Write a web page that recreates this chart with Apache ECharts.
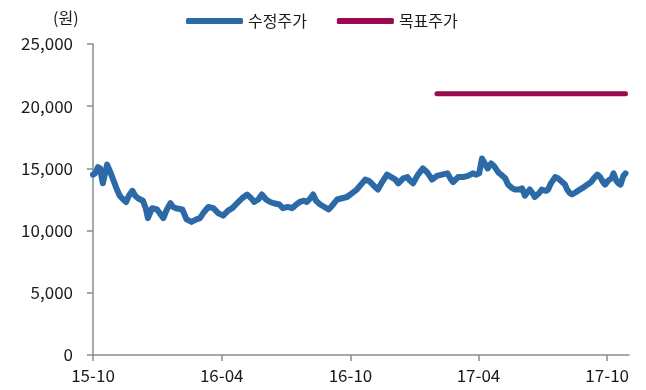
<!DOCTYPE html>
<html>
<head>
<meta charset="utf-8">
<script src="https://cdn.jsdelivr.net/npm/echarts@6/dist/echarts.min.js"></script>
<style>
  html, body { margin: 0; padding: 0; background: #fff; }
  #chart { width: 646px; height: 390px; }
</style>
</head>
<body>
<div id="chart"></div>
<script>
// Adjusted close price (수정주가), sampled dates and values in KRW
const priceDates = [
  '2015-10-01','2015-10-04','2015-10-08','2015-10-11','2015-10-15','2015-10-21','2015-10-25','2015-10-29',
  '2015-11-04','2015-11-08','2015-11-13','2015-11-17','2015-11-21','2015-11-26','2015-11-30',
  '2015-12-04','2015-12-11','2015-12-15','2015-12-18','2015-12-24','2015-12-31',
  '2016-01-04','2016-01-09','2016-01-14','2016-01-19','2016-01-23','2016-01-27',
  '2016-02-05','2016-02-11','2016-02-18','2016-02-25','2016-03-01','2016-03-07','2016-03-13','2016-03-20','2016-03-27',
  '2016-04-03','2016-04-10','2016-04-16','2016-04-23','2016-04-30',
  '2016-05-07','2016-05-13','2016-05-17','2016-05-23','2016-05-28',
  '2016-06-03','2016-06-09','2016-06-14','2016-06-22','2016-06-27',
  '2016-07-04','2016-07-10','2016-07-16','2016-07-21','2016-07-27','2016-07-31',
  '2016-08-05','2016-08-09','2016-08-13','2016-08-19','2016-08-25','2016-08-31',
  '2016-09-05','2016-09-12','2016-09-19','2016-09-26',
  '2016-10-03','2016-10-10','2016-10-16','2016-10-22','2016-10-27','2016-10-31',
  '2016-11-05','2016-11-09','2016-11-15','2016-11-22','2016-11-28',
  '2016-12-04','2016-12-08','2016-12-15','2016-12-21','2016-12-25','2016-12-29',
  '2017-01-05','2017-01-12','2017-01-18','2017-01-25',
  '2017-02-01','2017-02-08','2017-02-16','2017-02-20','2017-02-24',
  '2017-03-03','2017-03-10','2017-03-17','2017-03-24','2017-03-29',
  '2017-04-02','2017-04-06','2017-04-10','2017-04-14','2017-04-19','2017-04-23','2017-04-29',
  '2017-05-05','2017-05-09','2017-05-13','2017-05-19','2017-05-23','2017-05-29',
  '2017-06-02','2017-06-06','2017-06-10','2017-06-13','2017-06-17','2017-06-20','2017-06-26','2017-06-30',
  '2017-07-06','2017-07-09','2017-07-13','2017-07-19','2017-07-23','2017-07-29',
  '2017-08-02','2017-08-05','2017-08-09','2017-08-12','2017-08-18','2017-08-23','2017-08-29',
  '2017-09-03','2017-09-08','2017-09-12','2017-09-17','2017-09-21','2017-09-25','2017-09-28',
  '2017-10-02','2017-10-07','2017-10-10','2017-10-14','2017-10-17','2017-10-20','2017-10-24','2017-10-27'
];
const priceValues = [
  14500,14600,15100,15000,13800,15300,14800,14200,
  13300,12800,12500,12300,12800,13200,12800,
  12600,12400,11800,11000,11800,11700,
  11400,11000,11700,12200,11900,11800,
  11700,10900,10700,10900,11000,11500,11900,11800,11400,
  11200,11600,11800,12200,12600,
  12900,12600,12300,12500,12900,
  12500,12300,12200,12100,11800,
  11900,11800,12100,12300,12400,12300,
  12600,12900,12400,12100,11900,11700,
  12000,12500,12600,12700,
  13000,13300,13700,14100,14000,13800,
  13500,13300,13900,14500,14300,
  14100,13800,14200,14300,14000,13800,
  14500,15000,14700,14100,
  14400,14500,14600,14200,13900,
  14300,14300,14400,14600,14500,
  14600,15800,15400,15000,15400,15200,14700,
  14400,14200,13700,13400,13300,13300,
  13400,12800,13100,13300,13000,12700,13000,13300,
  13200,13300,13800,14300,14200,13900,
  13700,13300,13000,12900,13100,13300,13500,
  13700,13900,14200,14500,14300,13900,13700,
  14000,14200,14600,14000,13800,13700,14400,14600
];

// Target price (목표주가)
const targetDates = ['2017-02-01', '2017-10-27'];
const targetValues = [21000, 21000];

// Axis ticks
const xTickDates = ['2015-10-01', '2016-04-01', '2016-10-01', '2017-04-01', '2017-10-01'];
const yTicks = [0, 5000, 10000, 15000, 20000, 25000];

const toTs = s => { const p = s.split('-').map(Number); return new Date(p[0], p[1] - 1, p[2]).getTime(); };
const pad = n => (n < 10 ? '0' : '') + n;

const FONT = '"Noto Sans CJK KR", "Noto Sans", sans-serif';
const AXIS_GREY = '#8c8c8c';
const TEXT = '#1a1a1a';

const chart = echarts.init(document.getElementById('chart'), null, { renderer: 'canvas' });
const xTicks = xTickDates.map(toTs);

chart.setOption({
  animation: false,
  backgroundColor: '#fff',
  textStyle: { fontFamily: FONT },
  title: {
    text: '(원)',
    left: 48, top: 5,
    textStyle: { fontFamily: FONT, fontSize: 16, fontWeight: 'normal', color: TEXT }
  },
  legend: {
    left: 181, top: 8,
    itemWidth: 57, itemHeight: 6, itemGap: 30,
    icon: 'roundRect',
    textStyle: { fontFamily: FONT, fontSize: 16, color: TEXT },
    data: ['수정주가', '목표주가']
  },
  grid: { left: 93, right: 17, top: 44, bottom: 35, containLabel: false },
  xAxis: {
    type: 'value',
    min: toTs('2015-10-01'),
    max: toTs('2017-11-01'),
    axisLine: { lineStyle: { color: AXIS_GREY, width: 1.5 } },
    axisTick: { show: true, length: 6, inside: false, customValues: xTicks, lineStyle: { color: AXIS_GREY, width: 1.5 } },
    axisLabel: {
      customValues: xTicks,
      margin: 12,
      fontFamily: FONT, fontSize: 17, color: TEXT,
      formatter: v => { const d = new Date(v); return String(d.getFullYear()).slice(2) + '-' + pad(d.getMonth() + 1); }
    },
    splitLine: { show: false }
  },
  yAxis: {
    type: 'value',
    min: yTicks[0], max: yTicks[yTicks.length - 1], interval: 5000,
    axisLine: { show: true, lineStyle: { color: AXIS_GREY, width: 1.5 } },
    axisTick: { show: true, length: 6, lineStyle: { color: AXIS_GREY, width: 1.5 } },
    axisLabel: {
      margin: 20,
      fontFamily: FONT, fontSize: 17, color: TEXT,
      formatter: v => v.toLocaleString('en-US')
    },
    splitLine: { show: false }
  },
  series: [
    {
      name: '수정주가',
      type: 'line',
      data: priceDates.map((d, i) => [toTs(d), priceValues[i]]),
      showSymbol: false,
      smooth: false,
      color: '#2b6aa6',
      lineStyle: { width: 6, color: '#2b6aa6', cap: 'round', join: 'round' }
    },
    {
      name: '목표주가',
      type: 'line',
      data: targetDates.map((d, i) => [toTs(d), targetValues[i]]),
      showSymbol: false,
      color: '#9b0a4e',
      lineStyle: { width: 5, color: '#9b0a4e', cap: 'round' }
    }
  ]
});
</script>
</body>
</html>
